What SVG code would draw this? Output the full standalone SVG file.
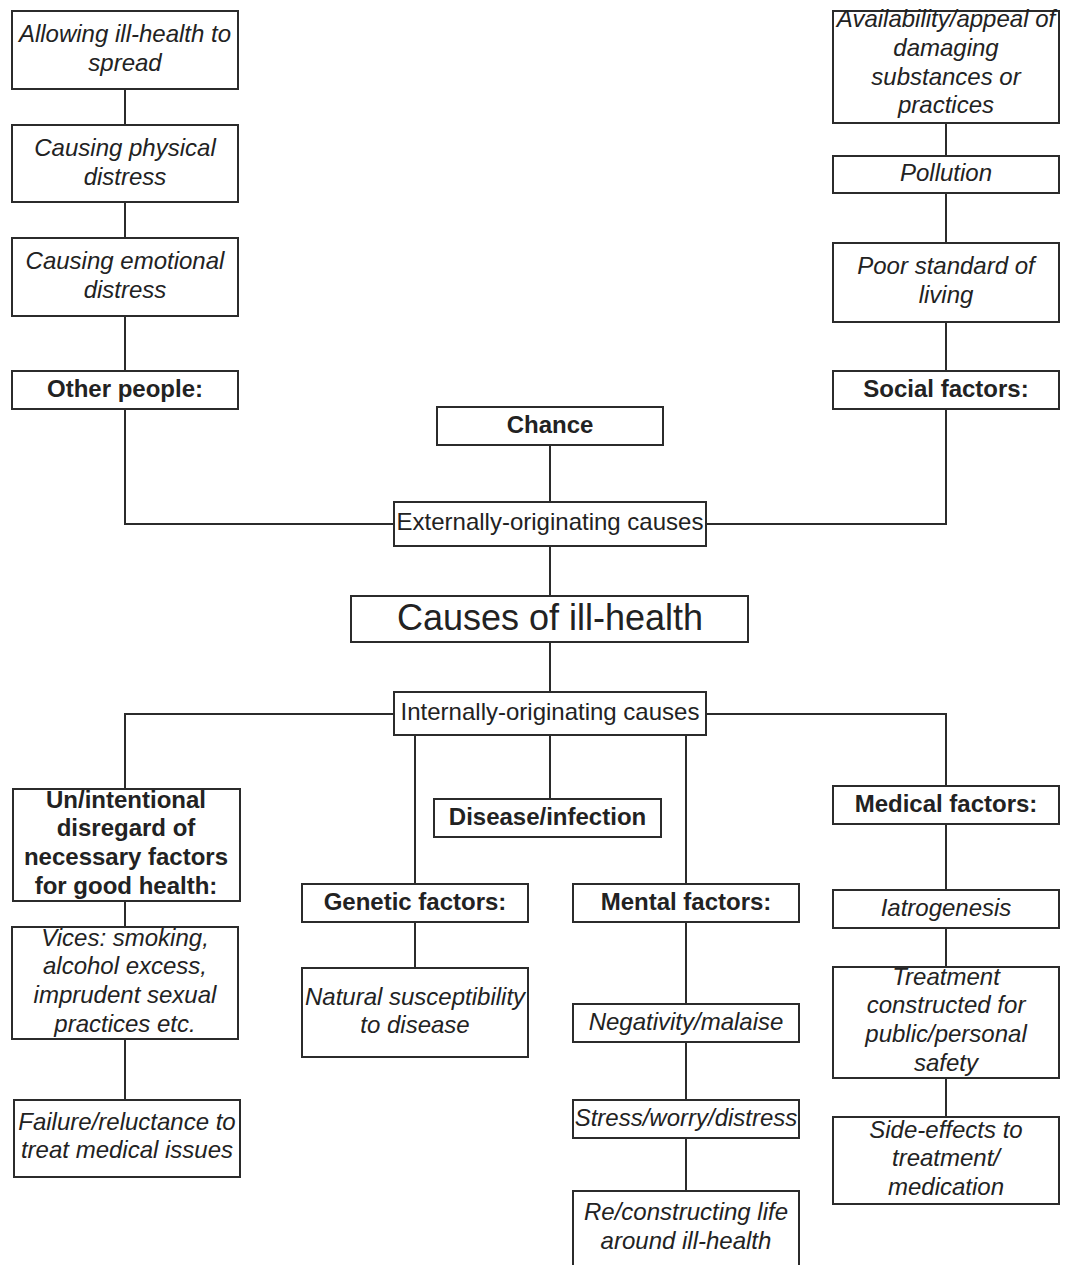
<svg xmlns="http://www.w3.org/2000/svg" width="1066" height="1265" viewBox="0 0 1066 1265">
  <style>
    .box { fill: #ffffff; stroke: #2b2b2b; stroke-width: 2; }
    .wire { fill: none; stroke: #2b2b2b; stroke-width: 2; }
    text { font-family: "Liberation Sans", Arial, sans-serif; font-size: 24px; fill: #222222; text-anchor: middle; }
    .it { font-style: italic; }
    .b { font-weight: bold; }
    .title { font-size: 36px; }
  </style>
  <rect width="1066" height="1265" fill="#ffffff"/>

  <!-- connectors -->
  <g id="connectors">
    <path class="wire" d="M125 89 V125 M125 202 V238 M125 316 V371 M125 409 V524 H394"/>
    <path class="wire" d="M946 123 V156 M946 193 V243 M946 322 V371 M946 409 V524 H706"/>
    <path class="wire" d="M550 445 V502 M550 546 V596 M550 642 V692"/>
    <path class="wire" d="M394 714 H125 V789 M706 714 H946 V786"/>
    <path class="wire" d="M415 735 V884 M550 735 V799 M686 735 V884"/>
    <path class="wire" d="M125 901 V927 M125 1039 V1100"/>
    <path class="wire" d="M415 922 V968"/>
    <path class="wire" d="M686 922 V1004 M686 1042 V1100 M686 1138 V1191"/>
    <path class="wire" d="M946 824 V890 M946 928 V967 M946 1078 V1117"/>
  </g>

  <!-- other people branch -->
  <g id="allowing-spread">
    <rect class="box" x="12" y="11" width="226" height="78"/>
    <text class="it" x="125" y="42">Allowing ill-health to</text>
    <text class="it" x="125" y="71">spread</text>
  </g>
  <g id="physical-distress">
    <rect class="box" x="12" y="125" width="226" height="77"/>
    <text class="it" x="125" y="156">Causing physical</text>
    <text class="it" x="125" y="184.5">distress</text>
  </g>
  <g id="emotional-distress">
    <rect class="box" x="12" y="238" width="226" height="78"/>
    <text class="it" x="125" y="269">Causing emotional</text>
    <text class="it" x="125" y="298">distress</text>
  </g>
  <g id="other-people">
    <rect class="box" x="12" y="371" width="226" height="38"/>
    <text class="b" x="125" y="396.5">Other people:</text>
  </g>

  <!-- social factors branch -->
  <g id="availability">
    <rect class="box" x="833" y="11" width="226" height="112"/>
    <text class="it" x="946" y="27">Availability/appeal of</text>
    <text class="it" x="946" y="55.8">damaging</text>
    <text class="it" x="946" y="84.6">substances or</text>
    <text class="it" x="946" y="113.4">practices</text>
  </g>
  <g id="pollution">
    <rect class="box" x="833" y="156" width="226" height="37"/>
    <text class="it" x="946" y="181">Pollution</text>
  </g>
  <g id="poor-standard">
    <rect class="box" x="833" y="243" width="226" height="79"/>
    <text class="it" x="946" y="274">Poor standard of</text>
    <text class="it" x="946" y="302.8">living</text>
  </g>
  <g id="social-factors">
    <rect class="box" x="833" y="371" width="226" height="38"/>
    <text class="b" x="946" y="396.5">Social factors:</text>
  </g>

  <!-- centre spine -->
  <g id="chance">
    <rect class="box" x="437" y="407" width="226" height="38"/>
    <text class="b" x="550" y="432.5">Chance</text>
  </g>
  <g id="external">
    <rect class="box" x="394" y="502" width="312" height="44"/>
    <text x="550" y="530">Externally-originating causes</text>
  </g>
  <g id="causes">
    <rect class="box" x="351" y="596" width="397" height="46"/>
    <text class="title" x="550" y="630">Causes of ill-health</text>
  </g>
  <g id="internal">
    <rect class="box" x="394" y="692" width="312" height="43"/>
    <text x="550" y="720">Internally-originating causes</text>
  </g>

  <!-- disregard branch -->
  <g id="disregard">
    <rect class="box" x="13" y="789" width="227" height="112"/>
    <text class="b" x="126" y="807.5">Un/intentional</text>
    <text class="b" x="126" y="836.3">disregard of</text>
    <text class="b" x="126" y="865.1">necessary factors</text>
    <text class="b" x="126" y="893.9">for good health:</text>
  </g>
  <g id="vices">
    <rect class="box" x="12" y="927" width="226" height="112"/>
    <text class="it" x="125" y="945.5">Vices: smoking,</text>
    <text class="it" x="125" y="974.3">alcohol excess,</text>
    <text class="it" x="125" y="1003.1">imprudent sexual</text>
    <text class="it" x="125" y="1031.9">practices etc.</text>
  </g>
  <g id="failure">
    <rect class="box" x="14" y="1100" width="226" height="77"/>
    <text class="it" x="127" y="1129.5">Failure/reluctance to</text>
    <text class="it" x="127" y="1158.3">treat medical issues</text>
  </g>

  <!-- genetic branch -->
  <g id="genetic">
    <rect class="box" x="302" y="884" width="226" height="38"/>
    <text class="b" x="415" y="909.5">Genetic factors:</text>
  </g>
  <g id="susceptibility">
    <rect class="box" x="302" y="968" width="226" height="89"/>
    <text class="it" x="415" y="1004.5">Natural susceptibility</text>
    <text class="it" x="415" y="1033">to disease</text>
  </g>

  <!-- disease -->
  <g id="disease">
    <rect class="box" x="434" y="799" width="227" height="38"/>
    <text class="b" x="547.5" y="824.5">Disease/infection</text>
  </g>

  <!-- mental branch -->
  <g id="mental">
    <rect class="box" x="573" y="884" width="226" height="38"/>
    <text class="b" x="686" y="909.5">Mental factors:</text>
  </g>
  <g id="negativity">
    <rect class="box" x="573" y="1004" width="226" height="38"/>
    <text class="it" x="686" y="1029.5">Negativity/malaise</text>
  </g>
  <g id="stress">
    <rect class="box" x="573" y="1100" width="226" height="38"/>
    <text class="it" x="686" y="1125.5">Stress/worry/distress</text>
  </g>
  <g id="reconstructing">
    <rect class="box" x="573" y="1191" width="226" height="78"/>
    <text class="it" x="686" y="1220">Re/constructing life</text>
    <text class="it" x="686" y="1249">around ill-health</text>
  </g>

  <!-- medical branch -->
  <g id="medical">
    <rect class="box" x="833" y="786" width="226" height="38"/>
    <text class="b" x="946" y="811.5">Medical factors:</text>
  </g>
  <g id="iatrogenesis">
    <rect class="box" x="833" y="890" width="226" height="38"/>
    <text class="it" x="946" y="915.5">Iatrogenesis</text>
  </g>
  <g id="treatment">
    <rect class="box" x="833" y="967" width="226" height="111"/>
    <text class="it" x="946" y="984.5">Treatment</text>
    <text class="it" x="946" y="1013.3">constructed for</text>
    <text class="it" x="946" y="1042.1">public/personal</text>
    <text class="it" x="946" y="1070.9">safety</text>
  </g>
  <g id="side-effects">
    <rect class="box" x="833" y="1117" width="226" height="87"/>
    <text class="it" x="946" y="1137.5">Side-effects to</text>
    <text class="it" x="946" y="1166.3">treatment/</text>
    <text class="it" x="946" y="1195.1">medication</text>
  </g>
</svg>
